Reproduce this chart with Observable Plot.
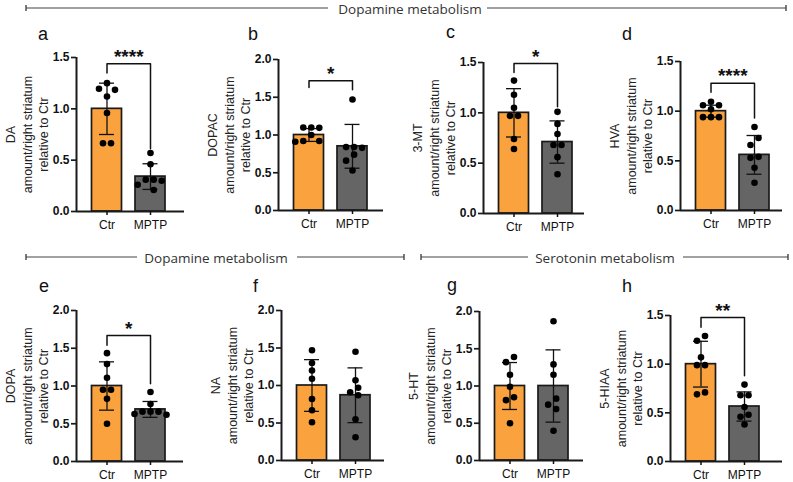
<!DOCTYPE html>
<html><head><meta charset="utf-8">
<script src="https://cdn.jsdelivr.net/npm/d3@7"></script>
<script src="https://cdn.jsdelivr.net/npm/@observablehq/plot@0.6"></script>
<style>
body{margin:0;background:#fff}
#fig{position:relative;width:793px;height:482px;overflow:hidden;font-family:"Liberation Sans",Arial,sans-serif;color:#111}
.panel{position:absolute}
.panel svg{overflow:visible}
.panel svg text{font-family:"Liberation Sans",Arial,sans-serif}
.letter{position:absolute;font-size:18px;line-height:18px;color:#111}
.sect{position:absolute;font-family:"Open Sans","Noto Sans",sans-serif;font-size:13.5px;color:#333;white-space:nowrap;transform:translateX(-50%);line-height:16px}
#rules{position:absolute;left:0;top:0}
</style>
</head><body><div id="fig"></div>
<script>
// ---------------- data ----------------
const groups = ["Ctr", "MPTP"];
const panelLetters = ["a", "b", "c", "d", "e", "f", "g", "h"];
const analytes = ["DA", "DOPAC", "3-MT", "HVA", "DOPA", "NA", "5-HT", "5-HIAA"];
const yMaxes = [1.5, 2.0, 1.5, 1.5, 2.0, 2.0, 2.0, 1.5];
const yTicksStep = 0.5;

const ctrValues = [
  [1.25, 1.195, 1.185, 1.12, 0.96, 0.665, 0.665],
  [1.10, 1.10, 1.095, 1.00, 0.92, 0.92, 0.91],
  [1.32, 1.18, 1.05, 0.97, 0.97, 0.74, 0.64],
  [1.095, 1.06, 1.06, 1.02, 0.94, 0.94, 0.94],
  [1.435, 1.29, 1.11, 0.95, 0.95, 0.83, 0.50],
  [1.47, 1.30, 1.20, 1.09, 0.82, 0.67, 0.51],
  [1.39, 1.32, 1.15, 0.99, 0.85, 0.81, 0.50],
  [1.29, 1.24, 1.07, 0.99, 0.99, 0.71, 0.69]
];
const mptpValues = [
  [0.57, 0.46, 0.31, 0.31, 0.30, 0.26, 0.21],
  [1.47, 0.84, 0.84, 0.83, 0.74, 0.66, 0.53],
  [1.01, 0.89, 0.79, 0.68, 0.68, 0.56, 0.39],
  [0.84, 0.73, 0.66, 0.54, 0.53, 0.43, 0.28],
  [0.92, 0.76, 0.66, 0.66, 0.66, 0.63, 0.62],
  [1.45, 1.07, 0.97, 0.91, 0.87, 0.55, 0.31],
  [1.87, 1.29, 1.15, 0.83, 0.75, 0.69, 0.40],
  [0.79, 0.68, 0.68, 0.56, 0.48, 0.46, 0.38]
];
const ctrMeans = [1.00, 1.00, 1.00, 1.00, 1.00, 1.00, 1.00, 1.00];
const ctrSDs   = [0.25, 0.085, 0.24, 0.06, 0.32, 0.345, 0.315, 0.235];
const mptpMeans = [0.34, 0.85, 0.71, 0.56, 0.69, 0.87, 1.00, 0.565];
const mptpSDs   = [0.125, 0.29, 0.21, 0.195, 0.105, 0.365, 0.485, 0.15];

const stars = ["****", "*", "*", "****", "*", "", "", "**"];
const bracketTop   = [1.44, 1.72, 1.49, 1.28, 1.67, null, null, 1.48];
const bracketLeft  = [1.35, 1.63, 1.40, 1.19, 1.54, null, null, 1.38];
const bracketRight = [0.61, 1.60, 1.06, 0.93, 1.03, null, null, 0.88];

const sectionTitles = ["Dopamine metabolism", "Dopamine metabolism", "Serotonin metabolism"];

// ---------------- layout (pixels) ----------------
// [axis x, y of top tick, y of zero, right end of x axis]
const geom = [
  [76, 57, 211, 184], [278, 59, 210, 383], [483, 62, 213, 584], [680, 61, 210, 782],
  [76, 310, 461, 183], [281, 310, 460, 384], [479, 311, 460, 583], [670, 315, 461, 782]
];
const letterPos = [[38, 25], [248, 25], [446, 23], [622, 25], [39, 277], [253, 277], [447, 276], [622, 277]];
const STEP = 43.5, FIRST = 30.5, HALFBAR = 15, CAP = 7.5, R = 3.3, TICK = 5;
const colors = ["#F9A23E", "#656565"];
const ML = 72, MR = 8, MT = 32, MB = 30;

const fig = document.getElementById("fig");

function dodge(vals, pxPerUnit) {
  const minD = 2 * R + 0.6, step = 8;
  const order = d3.range(vals.length).sort((i, j) => vals[j] - vals[i]);
  const off = new Array(vals.length).fill(0);
  const placed = [];
  for (const i of order) {
    const py = vals[i] * pxPerUnit;
    for (let k = 0; k < 30; k++) {
      const c = k === 0 ? 0 : (k % 2 ? -Math.ceil(k / 2) * step : Math.ceil(k / 2) * step);
      if (placed.every(p => Math.hypot(p.x - c, p.y - py) >= minD)) { off[i] = c; placed.push({x: c, y: py, i}); break; }
    }
  }
  let cluster = [];
  const flush = () => { if (cluster.length) { const m = d3.mean(cluster, i => off[i]); cluster.forEach(i => off[i] -= m); } cluster = []; };
  let prev = null;
  for (const i of order) {
    const py = vals[i] * pxPerUnit;
    if (prev !== null && prev - py >= minD) flush();
    cluster.push(i); prev = py;
  }
  flush();
  return off;
}

for (let p = 0; p < 8; p++) {
  const [ax, yTop, y0, xR] = geom[p];
  const W = xR - ax, H = y0 - yTop;
  const yMax = yMaxes[p];
  const pxPerUnit = H / yMax;
  const x0 = -FIRST / STEP, x1 = 1 + (W - FIRST - STEP) / STEP;
  const hw = HALFBAR / STEP, cw = CAP / STEP, tk = TICK / STEP;
  const yTicks = d3.range(0, yMax + 1e-9, yTicksStep);

  const bars = [
    {i: 0, mean: ctrMeans[p], sd: ctrSDs[p]},
    {i: 1, mean: mptpMeans[p], sd: mptpSDs[p]}
  ];
  const dots = [];
  [ctrValues[p], mptpValues[p]].forEach((vals, i) => {
    const off = dodge(vals, pxPerUnit);
    vals.forEach((v, k) => dots.push({i, v, off: off[k]}));
  });
  const caps = bars.flatMap(b => [{i: b.i, y: b.mean + b.sd}, {i: b.i, y: b.mean - b.sd}]);

  const marks = [
    Plot.rectY(bars, {x1: d => d.i - hw, x2: d => d.i + hw, y1: 0, y2: "mean", fill: d => colors[d.i], stroke: "#1a1a1a", strokeWidth: 1.7}),
    Plot.ruleX(bars, {x: "i", y1: d => d.mean - d.sd, y2: d => d.mean + d.sd, stroke: "#111", strokeWidth: 1.3}),
    Plot.ruleY(caps, {y: "y", x1: d => d.i - cw, x2: d => d.i + cw, stroke: "#111", strokeWidth: 1.3}),
    Plot.dot(dots, {x: d => d.i + d.off / STEP, y: "v", r: R, fill: "#000", stroke: "none"}),
    Plot.ruleY([0], {stroke: "#1a1a1a", strokeWidth: 2}),
    Plot.ruleX([x0], {y1: 0, y2: yMax, stroke: "#1a1a1a", strokeWidth: 2}),
    Plot.ruleY(yTicks, {y: d => d, x1: x0 - tk, x2: x0, stroke: "#1a1a1a", strokeWidth: 1.7}),
    Plot.text(yTicks, {y: d => d, x: x0, text: d => d3.format(".1f")(d), textAnchor: "end", dx: -7, fontSize: 12, fontWeight: "bold", fill: "#111"}),
    Plot.axisX({ticks: [0, 1], tickFormat: i => groups[i], tickSize: 4, tickPadding: 5, fontSize: 12, strokeWidth: 1.5, label: null}),
    Plot.text([`${analytes[p]}\namount/right striatum\nrelative to Ctr`], {text: d => d, frameAnchor: "left", dx: -50, rotate: -90, textAnchor: "middle", lineAnchor: "middle", fontSize: 12.5, lineHeight: 1.3, fill: "#222"})
  ];
  if (stars[p]) {
    const br = [
      {i: 0, y: bracketLeft[p]}, {i: 0, y: bracketTop[p]},
      {i: 1, y: bracketTop[p]}, {i: 1, y: bracketRight[p]}
    ];
    marks.push(Plot.line(br, {x: "i", y: "y", stroke: "#111", strokeWidth: 1.5}));
    marks.push(Plot.text([stars[p]], {text: d => d, x: () => 0.5, y: bracketTop[p], dy: -7, fontSize: 19, fontWeight: "bold", fill: "#111"}));
  }

  const chart = Plot.plot({
    width: W + ML + MR, height: H + MT + MB,
    marginLeft: ML, marginRight: MR, marginTop: MT, marginBottom: MB,
    x: {domain: [x0, x1], axis: null},
    y: {domain: [0, yMax], axis: null},
    style: {fontFamily: "Liberation Sans, Arial, sans-serif", background: "transparent", color: "#111", overflow: "visible"},
    marks
  });
  const div = document.createElement("div");
  div.className = "panel";
  div.style.left = (ax - ML) + "px";
  div.style.top = (yTop - MT) + "px";
  div.appendChild(chart);
  fig.appendChild(div);

  const L = document.createElement("div");
  L.className = "letter";
  L.style.left = letterPos[p][0] + "px";
  L.style.top = letterPos[p][1] + "px";
  L.textContent = panelLetters[p];
  fig.appendChild(L);
}

// section headers
const sections = [
  {title: sectionTitles[0], y: 8, cx: 410, segs: [[26, 328, "L"], [487, 786, "R"]]},
  {title: sectionTitles[1], y: 257, cx: 216, segs: [[26, 137, "L"], [297, 404, "R"]]},
  {title: sectionTitles[2], y: 257, cx: 605, segs: [[421, 528, "L"], [683, 788, "R"]]}
];
const svg = d3.select(fig).append("svg").attr("id", "rules").attr("width", 793).attr("height", 482);
for (const s of sections) {
  for (const [a, b, end] of s.segs) {
    svg.append("line").attr("x1", a).attr("x2", b).attr("y1", s.y).attr("y2", s.y).attr("stroke", "#444").attr("stroke-width", 1.2);
    const ex = end === "L" ? a : b;
    svg.append("line").attr("x1", ex).attr("x2", ex).attr("y1", s.y - 3).attr("y2", s.y + 3).attr("stroke", "#444").attr("stroke-width", 1.4);
  }
  const t = document.createElement("div");
  t.className = "sect";
  t.style.left = s.cx + "px";
  t.style.top = (s.y - 7) + "px";
  t.textContent = s.title;
  fig.appendChild(t);
}
</script>
</body></html>
